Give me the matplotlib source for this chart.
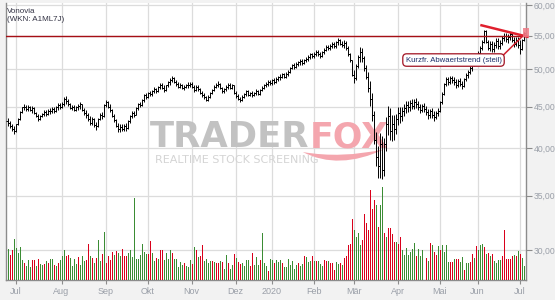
import numpy as np
import matplotlib
matplotlib.use('Agg')
import matplotlib.pyplot as plt
from matplotlib.ticker import FuncFormatter, NullLocator
from matplotlib.patches import Rectangle, PathPatch
from matplotlib.path import Path

# daily closes, Vonovia, Jul 2019 - Jul 2020 (one value per trading day)
close = [
    43.0, 42.6, 42.3, 42.0, 42.8, 43.5, 44.3, 44.9, 45.0, 44.7,
    45.0, 44.6, 44.8, 44.2, 43.8, 43.5, 43.8, 44.1, 44.3, 44.1,
    44.5, 44.4, 44.7, 44.5, 44.9, 45.2, 45.0, 45.4, 46.0, 45.7,
    45.3, 44.8, 45.0, 44.6, 44.9, 45.1, 45.3, 44.6, 44.2, 43.9,
    43.5, 43.0, 43.4, 42.7, 42.6, 43.5, 44.0, 43.8, 45.2, 45.6,
    45.0, 44.6, 43.8, 43.3, 42.6, 42.2, 42.5, 42.3, 42.6, 42.4,
    43.2, 43.8, 44.2, 44.0, 44.8, 45.3, 45.2, 45.8, 46.5, 46.3,
    46.8, 46.6, 47.0, 47.3, 47.0, 47.6, 47.9, 47.5, 47.2, 47.8,
    48.2, 48.5, 48.8, 48.3, 48.0, 47.6, 47.9, 47.4, 47.6, 47.8,
    47.9, 48.0, 47.6, 47.2, 47.6, 47.3, 46.8, 46.5, 46.2, 45.9,
    46.3, 46.8, 47.2, 47.6, 47.9, 48.0, 47.4, 47.0, 47.3, 47.6,
    47.9, 47.5, 47.8, 46.8, 46.4, 46.0, 45.9, 46.3, 46.6, 47.0,
    46.5, 46.8, 46.5, 46.8, 47.0, 46.7, 47.2, 47.5, 47.8, 48.0,
    48.3, 48.1, 48.5, 48.3, 48.7, 48.9, 49.0, 49.3, 49.0, 49.4,
    49.6, 50.2, 50.6, 50.4, 50.8, 51.0, 51.2, 50.9, 51.3, 51.5,
    51.8, 52.2, 51.9, 52.3, 52.6, 52.2, 52.0, 52.5, 52.9, 53.3,
    53.1, 53.5, 53.8, 53.4, 54.0, 54.3, 53.8, 53.6, 53.9, 53.2,
    52.2, 51.3, 49.2, 48.8, 50.5, 51.8, 52.6, 51.6, 50.2, 49.0,
    47.5, 46.0, 44.0, 41.0, 39.0, 38.0, 40.5, 37.6, 40.5, 42.8,
    43.8, 42.0, 42.8, 42.2, 43.5, 44.2, 43.8, 44.4, 44.8, 45.2,
    44.9, 45.5, 45.1, 45.6, 45.3, 45.0, 44.6, 45.1, 44.7, 44.3,
    43.9, 44.4, 44.0, 43.7, 44.2, 44.5, 45.6, 46.6, 48.0, 48.6,
    48.3, 48.8, 48.5, 48.2, 47.8, 48.4, 48.0, 47.7, 48.6, 49.2,
    49.6, 50.2, 50.8, 51.3, 51.8, 52.4, 53.2, 54.0, 55.8, 54.0,
    53.2, 53.8, 53.0, 53.6, 54.2, 53.4, 53.9, 54.6, 55.0, 54.5,
    54.8, 55.2, 54.3, 53.8, 54.4, 53.6, 53.0, 54.4, 55.4,
]
# daily high-low range
day_range = [
    0.9, 0.8, 0.9, 1.0, 0.8, 0.9, 1.1, 0.8, 0.7, 0.8,
    0.8, 0.7, 0.9, 0.8, 0.7, 0.9, 0.7, 0.6, 0.8, 0.7,
    0.7, 0.8, 0.8, 0.7, 0.7, 0.9, 0.8, 0.8, 1.2, 1.0,
    0.9, 0.8, 0.7, 0.8, 0.7, 0.8, 0.9, 0.8, 0.9, 1.0,
    1.0, 1.1, 0.9, 1.1, 1.0, 0.9, 0.9, 0.8, 1.2, 1.0,
    0.9, 1.0, 1.1, 1.0, 1.0, 1.1, 0.9, 0.8, 0.8, 0.9,
    1.0, 1.0, 0.8, 0.8, 0.9, 0.9, 0.7, 0.9, 1.0, 0.8,
    0.8, 0.7, 0.8, 0.8, 0.7, 0.9, 0.8, 0.8, 0.9, 0.8,
    0.8, 0.9, 0.8, 0.9, 0.8, 0.8, 0.7, 0.8, 0.7, 0.6,
    0.7, 0.7, 0.8, 0.9, 0.8, 0.8, 0.9, 0.8, 0.8, 0.7,
    0.7, 0.8, 0.7, 0.8, 0.7, 0.8, 0.9, 0.8, 0.7, 0.7,
    0.8, 0.8, 0.7, 1.0, 0.9, 0.8, 0.7, 0.8, 0.7, 0.8,
    0.8, 0.6, 0.7, 0.6, 0.7, 0.6, 0.8, 0.7, 0.8, 0.7,
    0.8, 0.7, 0.8, 0.7, 0.8, 0.7, 0.8, 0.7, 0.7, 0.8,
    0.8, 0.9, 0.8, 0.8, 0.8, 0.7, 0.8, 0.8, 0.7, 0.8,
    0.9, 0.9, 0.8, 0.8, 0.9, 0.8, 0.8, 0.9, 0.8, 0.9,
    0.8, 0.9, 0.9, 0.8, 1.0, 1.1, 1.0, 0.9, 1.2, 1.3,
    1.5, 1.4, 1.8, 1.8, 2.2, 2.0, 2.3, 2.0, 2.2, 2.0,
    2.8, 3.2, 3.5, 4.0, 3.8, 3.5, 5.0, 4.8, 4.2, 4.0,
    3.5, 3.8, 3.2, 3.0, 2.5, 2.2, 2.0, 1.8, 1.6, 1.5,
    1.4, 1.4, 1.3, 1.2, 1.3, 1.2, 1.2, 1.1, 1.2, 1.1,
    1.2, 1.1, 1.2, 1.3, 1.1, 1.0, 1.4, 1.6, 1.5, 1.2,
    1.1, 1.0, 1.0, 1.1, 1.2, 1.0, 1.1, 1.0, 1.2, 1.1,
    1.1, 1.2, 1.3, 1.2, 1.3, 1.3, 1.4, 1.6, 2.0, 1.8,
    1.6, 1.5, 1.6, 1.5, 1.4, 1.6, 1.3, 1.4, 1.3, 1.5,
    1.4, 1.3, 1.5, 1.6, 1.4, 1.6, 2.0, 1.6, 1.3,
]
# volume (arbitrary units)
volume = [
    31, 25, 30, 41, 32, 27, 33, 20, 17, 14,
    20, 13, 20, 20, 14, 21, 16, 15, 16, 19,
    17, 21, 21, 15, 14, 17, 20, 24, 30, 24,
    25, 22, 14, 21, 16, 23, 15, 24, 19, 20,
    36, 24, 22, 17, 22, 40, 19, 26, 48, 17,
    24, 20, 28, 25, 29, 27, 24, 31, 24, 24,
    27, 30, 23, 82, 21, 21, 25, 36, 28, 26,
    26, 39, 27, 19, 22, 21, 30, 30, 20, 27,
    21, 30, 27, 21, 21, 13, 18, 15, 17, 14,
    13, 20, 16, 33, 30, 23, 24, 35, 19, 21,
    17, 19, 19, 18, 17, 17, 19, 18, 11, 25,
    17, 11, 15, 26, 22, 18, 16, 17, 14, 20,
    20, 14, 27, 15, 23, 15, 20, 47, 17, 14,
    9, 21, 20, 17, 20, 18, 20, 17, 13, 13,
    21, 15, 19, 11, 15, 17, 14, 16, 24, 23,
    18, 19, 24, 19, 19, 19, 16, 14, 20, 19,
    19, 17, 17, 10, 18, 16, 17, 15, 22, 24,
    35, 36, 61, 50, 43, 47, 35, 40, 66, 57,
    50, 90, 71, 80, 75, 53, 75, 93, 47, 43,
    52, 52, 46, 38, 38, 36, 43, 30, 25, 32,
    25, 28, 31, 37, 24, 31, 24, 30, 0, 22,
    19, 37, 35, 28, 25, 34, 30, 35, 28, 35,
    18, 18, 18, 21, 21, 21, 18, 23, 10, 17,
    17, 18, 26, 22, 34, 30, 35, 36, 33, 26,
    27, 24, 26, 19, 17, 20, 20, 24, 50, 21,
    21, 21, 24, 25, 24, 29, 26, 22, 14,
]
# volume bar colour: G = up day, R = down day
up_down = ("GRRGGGGGRG" "GGRRGRGGRG" "RGGRGRGGGR" "RGGGGRGGGR" "RGRGRGGRGR"
           "RRRGRGGRRR" "GGGGGGGGGG" "RRGGRGRRGG" "GGRGGGGGRG" "GGRGRGRRGG"
           "GGRGRRGRGG" "RGGRGRRGGG" "GRRGGGRGGG" "RGGRGGG"
           "RGGGGGGGRG" "GRGGGRGRGG" "GRRGRRRGGR" "GRRRRRGGGG" "RRRRRRRGRG"
           "GRGRRRRGRR" "GGGGGGGRGG" "GGRGRGRRGR" "GGGGRRGRRG" "GRGGRRGRGG"
           "GRGRGRGGGG" "RRRRRRGRGR" "GG")

month_pos = [4, 27, 49, 70, 92, 114, 132, 153, 173, 195, 216, 235, 256]
month_lbl = ['Jul', 'Aug', 'Sep', 'Okt', 'Nov', 'Dez', '2020', 'Feb', 'Mär',
             'Apr', 'Mai', 'Jun', 'Jul']
price_ticks = [30, 35, 40, 45, 50, 55, 60]
resistance = 54.95
trend_x, trend_y = [237, 260], [56.65, 54.85]
link_x, link_y = [248, 258.7], [52.1, 55.3]

GRAY_TXT = '#9a9fa8'
fig = plt.figure(figsize=(5.55, 3.0), dpi=100, facecolor='#f2f2f2')
ax = fig.add_axes([6/555, 20/300, 519.7/555, 277/300])
ax.set_facecolor('white')

n = len(close)
x = np.arange(n)
c = np.array(close)
o = np.r_[c[0] + 0.2, c[:-1]]
ext = np.maximum(np.array(day_range) - np.abs(c - o), 0.2) / 2
hi = np.maximum(o, c) + ext
lo = np.minimum(o, c) - ext

ax.vlines(x, lo, hi, color='black', lw=0.7, zorder=3)
ax.hlines(o, x - 0.55, x, color='black', lw=0.7, zorder=3)
ax.hlines(c, x, x + 0.55, color='black', lw=0.7, zorder=3)

ax.set_yscale('log')
ax.set_ylim(27.56, 60.34)
ax.set_xlim(-0.8, 259.1)
ax.set_yticks(price_ticks)
ax.yaxis.set_minor_locator(NullLocator())
ax.yaxis.set_major_formatter(FuncFormatter(lambda v, p: f'{v:.2f}'.replace('.', ',')))
ax.set_xticks(month_pos)
ax.set_xticklabels(month_lbl)
ax.grid(True, color='#dcdcdc', lw=0.9, zorder=0)
ax.set_axisbelow(True)

# volume on a twin axis
axv = ax.twinx()
green = [i for i, f in enumerate(up_down) if f == 'G']
red = [i for i, f in enumerate(up_down) if f == 'R']
vol = np.array(volume)
axv.vlines(x[green], 0, vol[green], colors='#3b8c34', lw=0.72, antialiased=False, zorder=2)
axv.vlines(x[red], 0, vol[red], colors='#d9001b', lw=0.72, antialiased=False, zorder=2)
axv.set_ylim(0, 277)
axv.set_yticks([])
for s in axv.spines.values():
    s.set_visible(False)

ax.yaxis.tick_right()
ax.tick_params(axis='y', length=4, width=0.8, color='#8c8c8c', pad=2,
               labelsize=6.2, labelcolor=GRAY_TXT)
ax.tick_params(axis='x', length=3, width=0.8, color='#8c8c8c', pad=2,
               labelsize=6.5, labelcolor=GRAY_TXT)
for lab in ax.get_xticklabels() + ax.get_yticklabels():
    lab.set_family('Liberation Sans')
ax.spines['top'].set_visible(False)
for side in ['left', 'right', 'bottom']:
    ax.spines[side].set_color('#8c8c8c')
    ax.spines[side].set_linewidth(1.0)

# watermark
ax.text(0.583, 0.48, 'TRADER', transform=ax.transAxes, ha='right', va='baseline',
        fontsize=25.5, fontweight='bold', color='#c2c2c2', zorder=1)
ax.text(0.585, 0.48, 'FOX', transform=ax.transAxes, ha='left', va='baseline',
        fontsize=25, fontweight='bold', color='#f4a6ae', zorder=1)
ax.text(0.445, 0.433, 'REALTIME STOCK SCREENING', transform=ax.transAxes,
        ha='center', va='center', fontsize=8, color='#d4d4d4', zorder=1)
swoosh = Path([(0.571, 0.462), (0.64, 0.395), (0.728, 0.472),
               (0.645, 0.438), (0.571, 0.462)],
              [Path.MOVETO, Path.CURVE3, Path.CURVE3, Path.CURVE3, Path.CURVE3])
ax.add_patch(PathPatch(swoosh, transform=ax.transAxes, fc='#f4a6ae', ec='none',
                       zorder=1))

# resistance and trend
ax.axhline(resistance, color='#a50f15', lw=1.0, zorder=4)
ax.plot(trend_x, trend_y, color='#e0202e', lw=1.8, zorder=5, clip_on=False)
ax.plot(link_x, link_y, color='#d0202e', lw=1.1, zorder=5, clip_on=False)
ax.add_patch(Rectangle((257.8, 54.85), 2.8, 1.32, fc='#f07a85', ec='none',
                       alpha=0.85, zorder=5, clip_on=False))
ax.text(223, 51.35, 'Kurzfr. Abwaertstrend (steil)', fontsize=5.6,
        family='Liberation Sans', color='#1c2f6b', ha='center', va='center',
        zorder=6, bbox=dict(boxstyle='round,pad=0.35,rounding_size=0.5',
                            fc='white', ec='#a01020', lw=0.9))

fig.text(7/555, 1 - 8/300, 'Vonovia\n(WKN: A1ML7J)', ha='left', va='top',
         fontsize=5.8, family='Liberation Sans', color='#333344', linespacing=1.25)

fig.savefig('out.png', dpi=100, facecolor=fig.get_facecolor())
